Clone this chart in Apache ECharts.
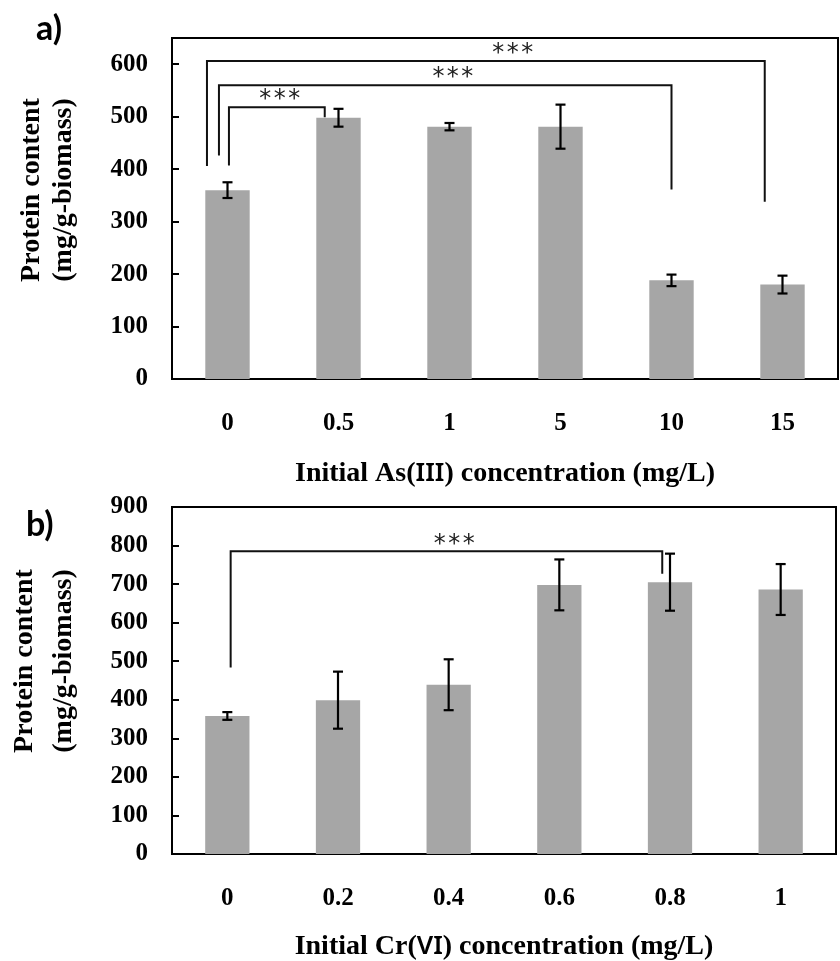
<!DOCTYPE html>
<html><head><meta charset="utf-8">
<script src="https://cdn.jsdelivr.net/npm/echarts@6/dist/echarts.min.js"></script>
<style>html,body{margin:0;padding:0;background:#fff}#c{width:840px;height:961px}</style>
</head><body><div id="c"></div>
<script>
// ---- data ----
const catsA = ['0', '0.5', '1', '5', '10', '15'];
const valsA = [360, 498, 481, 481, 188, 180];
const errA  = [15, 17, 7, 42, 11, 17];
const catsB = ['0', '0.2', '0.4', '0.6', '0.8', '1'];
const valsB = [358, 399, 439, 698, 705, 686];
const errB  = [10, 74, 66, 66, 74, 66];
// significance brackets: [xLeft, xRight, yTop, yLeftEnd, yRightEnd, starsX] (category-index / data units)
const bracketsA = [
  [-0.185, 4.84, 606, 406, 338, 2.57],
  [-0.077, 4.00, 560, 426, 361, 2.03],
  [0.013, 0.876, 518, 407, 499, 0.47]
];
const bracketsB = [
  [0.03, 3.93, 785, 484, 727, 2.05]
];
const yTicksA = {min: 0, max: 650, interval: 100};
const yTicksB = {min: 0, max: 900, interval: 100};
const titleA = ['Initial As(', 'III', ') concentration (mg/L)'];
const titleB = ['Initial Cr(', 'VI', ') concentration (mg/L)'];
const yTitle = ['Protein content', '(mg/g-biomass)'];
const starText = '***';

// ---- styles ----
const SERIF = "'Liberation Serif','Times New Roman',serif";
const SANS = "'Lato','Open Sans',sans-serif";
const BAR_COLOR = '#a6a6a6';

function xAxisCat(gi, cats, title, gap) {
  return {
    gridIndex: gi, type: 'category', data: cats,
    axisLine: {onZero: false, lineStyle: {color: '#000', width: 2}},
    axisTick: {inside: true, length: 7, lineStyle: {color: '#000', width: 2}},
    axisLabel: {interval: 0, margin: 32, fontSize: 25, fontWeight: 'bold', fontFamily: SERIF, color: '#000'},
    name: '{a|' + title[0] + '}{b|' + title[1] + '}{a|' + title[2] + '}',
    nameLocation: 'middle', nameGap: gap, nameMoveOverlap: false,
    nameTextStyle: {
      rich: {
        a: {fontSize: 28, fontWeight: 'bold', fontFamily: SERIF, color: '#000'},
        b: {fontSize: 26, fontWeight: 600, fontFamily: 'Noto Sans', color: '#000'}
      }
    }
  };
}
function xAxisVal(gi) {
  return {gridIndex: gi, type: 'value', min: -0.5, max: 5.5, show: false};
}
function yAxis(gi, t, showMax) {
  return {
    gridIndex: gi, type: 'value', min: t.min, max: t.max, interval: t.interval,
    splitLine: {show: false},
    axisLine: {show: true, onZero: false, lineStyle: {color: '#000', width: 2}},
    axisTick: {show: true, inside: true, length: 7, lineStyle: {color: '#000', width: 2}},
    axisLabel: {showMaxLabel: showMax, margin: 24, fontSize: 25, fontWeight: 'bold', fontFamily: SERIF, color: '#000'}
  };
}
function errRender(params, api) {
  const i = api.value(0);
  const lo = api.coord([i, api.value(1)]);
  const hi = api.coord([i, api.value(2)]);
  const cw = 5;
  const st = {stroke: '#000', lineWidth: 2.2};
  return {type: 'group', children: [
    {type: 'line', shape: {x1: lo[0], y1: lo[1], x2: hi[0], y2: hi[1]}, style: st},
    {type: 'line', shape: {x1: lo[0] - cw, y1: lo[1], x2: lo[0] + cw, y2: lo[1]}, style: st},
    {type: 'line', shape: {x1: hi[0] - cw, y1: hi[1], x2: hi[0] + cw, y2: hi[1]}, style: st}
  ]};
}
function bracketRender(params, api) {
  const xl = api.value(0), xr = api.value(1), yt = api.value(2), yl = api.value(3), yr = api.value(4), sx = api.value(5);
  const p1 = api.coord([xl, yl]), p2 = api.coord([xl, yt]), p3 = api.coord([xr, yt]), p4 = api.coord([xr, yr]);
  const s = api.coord([sx, yt]);
  return {type: 'group', children: [
    {type: 'polyline', shape: {points: [p1, p2, p3, p4]}, style: {stroke: '#111', lineWidth: 2, fill: null}},
    {type: 'text', x: s[0], y: s[1] - 7, style: {text: starText, align: 'center', verticalAlign: 'middle',
      font: "24px 'DejaVu Sans Mono', monospace", fill: '#222'}}
  ]};
}
function panelSeries(gi, vals, errs, brackets) {
  const xc = gi * 2, xv = gi * 2 + 1;
  return [
    {type: 'bar', xAxisIndex: xc, yAxisIndex: gi, data: vals, barWidth: '40%',
      itemStyle: {color: BAR_COLOR}, silent: true, z: 2},
    {type: 'custom', xAxisIndex: xc, yAxisIndex: gi,
      data: vals.map((v, i) => [i, v - errs[i], v + errs[i]]),
      encode: {x: 0, y: [1, 2]}, renderItem: errRender, silent: true, z: 3},
    {type: 'custom', xAxisIndex: xv, yAxisIndex: gi, data: brackets,
      encode: {x: [0, 1, 5], y: [2, 3, 4]}, renderItem: bracketRender, silent: true, clip: false, z: 4}
  ];
}

const chart = echarts.init(document.getElementById('c'), null, {renderer: 'canvas'});
chart.setOption({
  animation: false,
  backgroundColor: '#fff',
  grid: [
    {left: 172, top: 38, right: 2, height: 341, show: true, borderColor: '#000', borderWidth: 2,
      backgroundColor: 'transparent', containLabel: false, outerBoundsMode: 'none'},
    {left: 172, top: 507, right: 4, height: 347, show: true, borderColor: '#000', borderWidth: 2,
      backgroundColor: 'transparent', containLabel: false, outerBoundsMode: 'none'}
  ],
  xAxis: [xAxisCat(0, catsA, titleA, 81), xAxisVal(0), xAxisCat(1, catsB, titleB, 79), xAxisVal(1)],
  yAxis: [yAxis(0, yTicksA, false), yAxis(1, yTicksB, true)],
  series: [].concat(panelSeries(0, valsA, errA, bracketsA), panelSeries(1, valsB, errB, bracketsB)),
  graphic: [
    {type: 'text', x: 36, y: 29, style: {text: 'a)', font: "bold 34px " + SANS, fill: '#000', verticalAlign: 'middle'}},
    {type: 'text', x: 26, y: 525, style: {text: 'b)', font: "bold 34px " + SANS, fill: '#000', verticalAlign: 'middle'}},
    {type: 'text', x: 32, y: 190, rotation: Math.PI / 2, style: {text: yTitle[0], font: "bold 28px " + SERIF, fill: '#000', align: 'center', verticalAlign: 'middle'}},
    {type: 'text', x: 64, y: 190, rotation: Math.PI / 2, style: {text: yTitle[1], font: "bold 28px " + SERIF, fill: '#000', align: 'center', verticalAlign: 'middle'}},
    {type: 'text', x: 25, y: 661, rotation: Math.PI / 2, style: {text: yTitle[0], font: "bold 28px " + SERIF, fill: '#000', align: 'center', verticalAlign: 'middle'}},
    {type: 'text', x: 64, y: 661, rotation: Math.PI / 2, style: {text: yTitle[1], font: "bold 28px " + SERIF, fill: '#000', align: 'center', verticalAlign: 'middle'}}
  ]
});
</script>
</body></html>
